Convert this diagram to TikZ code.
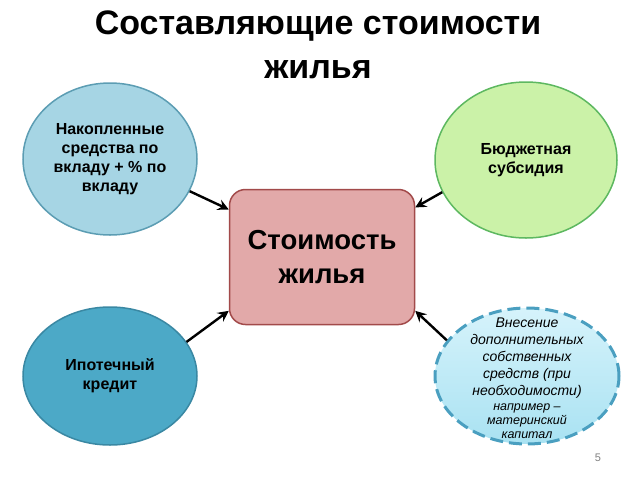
\documentclass[tikz,border=0pt]{standalone}
\usepackage{fontspec}
\setmainfont{Liberation Sans}
\usetikzlibrary{arrows.meta,shapes.geometric}

\definecolor{savefill}{HTML}{A6D5E4}
\definecolor{saveline}{HTML}{5C9DB3}
\definecolor{subfill}{HTML}{CBF2A8}
\definecolor{subline}{HTML}{5DB860}
\definecolor{loanfill}{HTML}{4CA9C7}
\definecolor{loanline}{HTML}{3A88A3}
\definecolor{extratop}{HTML}{D6F3FB}
\definecolor{extrabot}{HTML}{A9E2F2}
\definecolor{extraline}{HTML}{4A9FC0}
\definecolor{costfill}{HTML}{E2A9A9}
\definecolor{costline}{HTML}{A24A4A}

\tikzset{
  part/.style={ellipse, draw, line width=1.5pt, inner sep=0pt, align=center,
    minimum width=174pt, minimum height=152pt, font=\bfseries\fontsize{16}{19}\selectfont},
  costbox/.style={rectangle, rounded corners=16pt, draw=costline, fill=costfill, line width=1.5pt,
    minimum width=185pt, minimum height=135pt, align=center,
    font=\bfseries\fontsize{27.5}{34}\selectfont},
  feed/.style={-{Stealth[length=11pt,width=11pt,inset=4pt]}, line width=2.4pt}
}

\begin{document}
\begin{tikzpicture}[x=1pt,y=-1pt]
	\useasboundingbox (0,0) rectangle (640,480);

	\node (title) at (318,45) [align=center, font=\bfseries\fontsize{34}{44}\selectfont]
		{Составляющие стоимости\\жилья};

	\node (cost) at (322,257) [costbox] {Стоимость\\жилья};

	\node (save) at (110,159) [part, fill=savefill, draw=saveline]
		{Накопленные\\средства по\\вкладу + \% по\\вкладу};
	\node (subsidy) at (526,160) [part, fill=subfill, draw=subline,
		minimum width=182pt, minimum height=156pt] {Бюджетная\\субсидия};
	\node (loan) at (110,376) [part, fill=loanfill, draw=loanline,
		minimum height=138pt] {Ипотечный\\кредит};
	\node (extra) at (527,376) [ellipse, draw=extraline, top color=extratop, bottom color=extrabot,
		line width=3pt, dash pattern=on 13pt off 6pt, inner sep=0pt,
		minimum width=184pt, minimum height=136pt] {};
	\node (extratext) at (527,378) [align=center, font=\itshape\fontsize{14}{17}\selectfont]
		{Внесение\\дополнительных\\собственных\\средств (при\\необходимости)\\[-2pt]
		 {\fontsize{12.5}{14}\selectfont например –}\\[-3pt]
		 {\fontsize{12.5}{14}\selectfont материнский}\\[-3pt]
		 {\fontsize{12.5}{14}\selectfont капитал}};

	\node (page) at (598,458) [text=gray, font=\fontsize{11}{13}\selectfont] {5};

	\draw [feed] (save.338) to (cost.153);
	\draw [feed] (subsidy.201) to (cost.28);
	\draw [feed] (loan.24) to (cost.210);
	\draw [feed] (extra.156) to (cost.330);
\end{tikzpicture}
\end{document}
